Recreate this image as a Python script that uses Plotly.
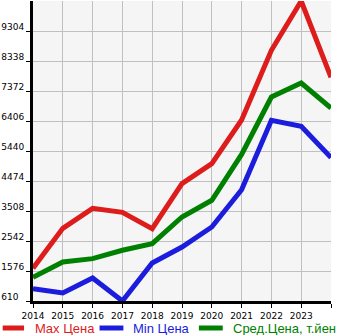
import plotly.graph_objects as go

years = [2014, 2015, 2016, 2017, 2018, 2019, 2020, 2021, 2022, 2023, 2024]
max_price = [1663, 2951, 3595, 3466, 2941, 4390, 5034, 6440, 8683, 10270, 7813]
min_price = [1009, 868, 1351, 610, 1834, 2349, 2993, 4190, 6429, 6235, 5227]
avg_price = [1373, 1866, 1975, 2243, 2458, 3315, 3853, 5330, 7179, 7630, 6825]

y_ticks = [610, 1576, 2542, 3508, 4474, 5440, 6406, 7372, 8338, 9304]
x_labels = ["2014", "2015", "2016", "2017", "2018", "2019", "2020", "2021", "2022", "2023", ""]

series = [
    ("Max Цена", max_price, "#dd1c1c"),
    ("Min Цена", min_price, "#1c1cdd"),
    ("Сред.Цена, т.йен", avg_price, "#008000"),
]

# tick labels are left-aligned: pad short ones with figure spaces
label_len = max(len(str(v)) for v in y_ticks)
y_labels = [str(v) + "\u2007" * (label_len - len(str(v))) for v in y_ticks]

fig = go.Figure()
for name, vals, color in series:
    fig.add_trace(go.Scatter(
        x=years, y=vals, mode="lines", name=name,
        line=dict(color=color, width=5),
    ))

# hand-built legend row under the x axis (paper coordinates)
legend_pos = [(-0.1017, -0.03, 0.0), (0.2233, 0.3033, 0.33), (0.5567, 0.6367, 0.6633)]
legend_y = -0.09
shapes, annotations = [], []
for (name, _, color), (lx0, lx1, tx) in zip(series, legend_pos):
    shapes.append(dict(
        type="line", xref="paper", yref="paper",
        x0=lx0, x1=lx1, y0=legend_y, y1=legend_y,
        line=dict(color=color, width=5),
    ))
    annotations.append(dict(
        xref="paper", yref="paper", x=tx, y=legend_y,
        xanchor="left", yanchor="middle", showarrow=False,
        text=name, font=dict(family="Liberation Sans", size=13, color=color),
    ))

fig.update_layout(
    width=345, height=335,
    margin=dict(l=31, r=14, t=1, b=34),
    paper_bgcolor="white",
    plot_bgcolor="#f5f5f5",
    font=dict(family="DejaVu Sans", size=9, color="black"),
    showlegend=False,
    shapes=shapes,
    annotations=annotations,
)
fig.update_xaxes(
    range=[2014, 2024], tickvals=years, ticktext=x_labels,
    showgrid=True, gridcolor="#c0c0c0", gridwidth=1,
    showline=True, linecolor="black", linewidth=3,
    ticks="outside", ticklen=4, tickcolor="black", tickwidth=1,
    zeroline=False,
)
fig.update_yaxes(
    range=[610, 10270], tickvals=y_ticks, ticktext=y_labels,
    showgrid=True, gridcolor="#c0c0c0", gridwidth=1,
    showline=True, linecolor="black", linewidth=3,
    ticks="outside", ticklen=4, tickcolor="black", tickwidth=1,
    zeroline=False, ticklabelshift=-4,
)

fig.write_html("out.html")
